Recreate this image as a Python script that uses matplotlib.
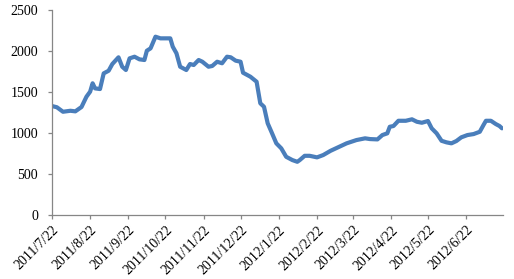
import matplotlib
matplotlib.use("Agg")
import matplotlib.pyplot as plt
import pandas as pd

start_date = "2011-07-22"
day_offsets = [0, 4, 9, 15, 19, 24, 28, 31, 33, 35, 39, 42, 46, 49, 54, 57, 60, 63, 67, 71,
               75, 77, 80, 84, 88, 93, 96, 98, 101, 104, 109, 112, 115, 119, 122, 127, 130,
               134, 138, 142, 145, 149, 153, 155, 161, 166, 169, 172, 175, 178, 182, 186,
               190, 195, 199, 201, 205, 209, 215, 220, 226, 232, 239, 247, 254, 258, 264,
               268, 272, 274, 277, 281, 287, 292, 296, 300, 305, 308, 312, 316, 320, 324,
               328, 332, 337, 342, 347, 350, 352, 356, 360, 363, 365]
values = [1330, 1315, 1260, 1272, 1265, 1318, 1443, 1505, 1607, 1545, 1537, 1728, 1760, 1842,
          1924, 1809, 1769, 1911, 1931, 1899, 1891, 2004, 2033, 2175, 2155, 2155, 2155, 2053,
          1973, 1809, 1769, 1842, 1830, 1891, 1870, 1809, 1818, 1870, 1851, 1931, 1924, 1883,
          1870, 1736, 1687, 1626, 1363, 1321, 1119, 1016, 875, 814, 711, 671, 650, 671, 723,
          723, 704, 732, 784, 826, 875, 915, 936, 927, 923, 976, 997, 1077, 1086, 1150, 1150,
          1168, 1138, 1126, 1147, 1058, 997, 906, 887, 875, 903, 948, 976, 988, 1016, 1098,
          1150, 1150, 1110, 1086, 1058]
tick_labels = ["2011/7/22", "2011/8/22", "2011/9/22", "2011/10/22", "2011/11/22", "2011/12/22",
               "2012/1/22", "2012/2/22", "2012/3/22", "2012/4/22", "2012/5/22", "2012/6/22"]
y_ticks = [0, 500, 1000, 1500, 2000, 2500]

dates = pd.Timestamp(start_date) + pd.to_timedelta(day_offsets, unit="D")
tick_dates = pd.to_datetime(tick_labels, format="%Y/%m/%d")

plt.rcParams["font.family"] = ["Liberation Serif", "DejaVu Serif"]
fig = plt.figure(figsize=(5.14, 2.79), dpi=100)
ax = fig.add_axes([0.101, 0.229, 0.878, 0.735])
ax.plot(dates, values, color="#4A7EBB", linewidth=3.0, solid_capstyle="round", solid_joinstyle="round")

ax.set_ylim(0, 2500)
ax.set_yticks(y_ticks)
ax.set_xlim(pd.Timestamp("2011-07-22"), pd.Timestamp("2012-07-22"))
ax.set_xticks(tick_dates)
ax.set_xticklabels(tick_labels, rotation=45, ha="right", rotation_mode="anchor")

for s in ["top", "right"]:
    ax.spines[s].set_visible(False)
for s in ["left", "bottom"]:
    ax.spines[s].set_color("#868686")
    ax.spines[s].set_linewidth(0.9)
ax.tick_params(axis="both", colors="#868686", labelcolor="black", labelsize=10, length=3, width=0.9)
ax.tick_params(axis="y", pad=7)
ax.tick_params(axis="x", pad=3)

fig.savefig("out.png", dpi=100)
